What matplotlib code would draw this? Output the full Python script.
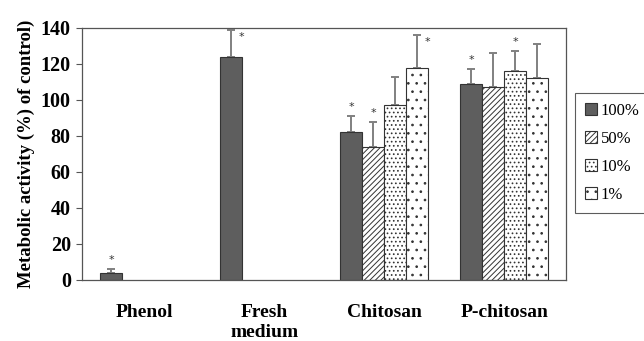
import matplotlib
matplotlib.use('Agg')
import matplotlib.pyplot as plt
import numpy as np

categories = ['Phenol', 'Fresh\nmedium', 'Chitosan', 'P-chitosan']
series = ['100%', '50%', '10%', '1%']
# nan = no bar for that concentration
values = {
    '100%': [4, 124, 82, 109],
    '50%': [np.nan, np.nan, 74, 107],
    '10%': [np.nan, np.nan, 97, 116],
    '1%': [np.nan, np.nan, 118, 112],
}
errors = {
    '100%': [2, 15, 9, 8],
    '50%': [np.nan, np.nan, 14, 19],
    '10%': [np.nan, np.nan, 16, 11],
    '1%': [np.nan, np.nan, 18, 19],
}
# significance markers: (series, category index)
stars = [('100%', 0), ('100%', 1), ('100%', 2), ('50%', 2), ('1%', 2),
         ('100%', 3), ('10%', 3)]
yticks = [0, 20, 40, 60, 80, 100, 120, 140]

plt.rcParams['hatch.linewidth'] = 0.7
plt.rcParams['hatch.color'] = '#555555'

fig = plt.figure(figsize=(6.44, 3.41), dpi=100)
ax = fig.add_axes([0.1273, 0.179, 0.752, 0.739])

styles = {
    '100%': dict(color='#5e5e5e', hatch=None),
    '50%': dict(color='white', hatch='//////'),
    '10%': dict(color='white', hatch='....'),
    '1%': dict(color='white', hatch='..'),
}
star_side = {('100%', 1): 'right', ('1%', 2): 'right'}

x = np.arange(len(categories))
w = 0.183
handles = []
for i, s in enumerate(series):
    vals = np.array(values[s], dtype=float)
    errs = np.array(errors[s], dtype=float)
    ok = ~np.isnan(vals)
    pos = x[ok] + (i - 1.5) * w
    b = ax.bar(pos, vals[ok], w, color=styles[s]['color'],
               hatch=styles[s]['hatch'], edgecolor='#333333', lw=0.8,
               label=s, zorder=2)
    handles.append(b)
    ax.errorbar(pos, vals[ok], yerr=[np.zeros(ok.sum()), errs[ok]],
                fmt='none', ecolor='#808080', elinewidth=1.4, capsize=3,
                capthick=1.4, zorder=1)

for s, c in stars:
    i = series.index(s)
    px = c + (i - 1.5) * w
    top = values[s][c] + errors[s][c]
    if star_side.get((s, c)) == 'right':
        ax.text(px + 0.09, top - 4, '*', ha='center', va='center',
                fontsize=8, color='#333333')
    else:
        ax.text(px, top + 5, '*', ha='center', va='center',
                fontsize=8, color='#333333')

ax.set_ylim(0, 140)
ax.set_xlim(-0.517, 3.517)
ax.set_yticks(yticks)
ax.set_xticks(x)
ax.set_xticklabels(categories, fontfamily='Liberation Serif',
                   fontweight='bold', fontsize=14, linespacing=1.3)
ax.tick_params(axis='x', length=0, pad=17)
ax.tick_params(axis='y', length=4, width=0.8, color='#555555', pad=4)
for lab in ax.get_yticklabels():
    lab.set_fontfamily('Liberation Serif')
    lab.set_fontweight('bold')
    lab.set_fontsize(14.5)
ax.set_ylabel('Metabolic activity (%) of control)', fontfamily='Liberation Serif',
              fontweight='bold', fontsize=13.5, labelpad=4)
for sp in ax.spines.values():
    sp.set_color('#555555')
    sp.set_linewidth(0.9)

leg = fig.legend(handles=handles, labels=series, loc='upper left',
                 bbox_to_anchor=(575 / 644, 1 - 93 / 341),
                 prop={'family': 'Liberation Serif', 'size': 12},
                 frameon=True, fancybox=False, edgecolor='#333333',
                 handlelength=0.7, handleheight=0.7, handletextpad=0.25,
                 labelspacing=0.72, borderpad=0.6, borderaxespad=0)
leg.get_frame().set_linewidth(0.8)

fig.savefig('out.png', dpi=100)
